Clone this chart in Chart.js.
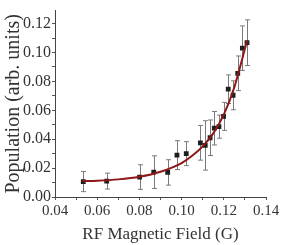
<!DOCTYPE html>
<html>
<head>
<meta charset="utf-8">
<script src="https://cdn.jsdelivr.net/npm/chart.js@4"></script>
<style>
  html, body { margin: 0; padding: 0; background: #fff; }
  #wrap { width: 283px; height: 245px; }
</style>
</head>
<body>
<div id="wrap"><canvas id="c" width="283" height="245"></canvas></div>
<script>
// measured points (RF field in G, population arb. units, +/- error)
var fieldX = [0.0534, 0.0645, 0.0801, 0.0868, 0.0934, 0.0978, 0.1022, 0.1089, 0.1112,
              0.1135, 0.1155, 0.1177, 0.1199, 0.1221, 0.1244, 0.1266, 0.1288, 0.1310];
var population = [0.0107, 0.0110, 0.0138, 0.0172, 0.0170, 0.0290, 0.0300, 0.0375, 0.0357,
                  0.0410, 0.0476, 0.0487, 0.0558, 0.0746, 0.0704, 0.0856, 0.1030, 0.1068];
var popError = [0.0070, 0.0055, 0.0085, 0.0113, 0.0088, 0.0100, 0.0083, 0.0120, 0.0171,
                0.0123, 0.0116, 0.0080, 0.0097, 0.0099, 0.0100, 0.0120, 0.0154, 0.0158];

// fitted curve
var fitX = [0.053, 0.060, 0.070, 0.080, 0.090, 0.100, 0.105, 0.110, 0.115, 0.120, 0.125, 0.131];
var fitY = [0.0110, 0.0113, 0.0122, 0.0140, 0.0175, 0.0235, 0.0285, 0.0350, 0.0440, 0.0570, 0.0760, 0.1080];

var xTicks = [0.04, 0.06, 0.08, 0.10, 0.12, 0.14];
var yTicks = [0.00, 0.02, 0.04, 0.06, 0.08, 0.10, 0.12];

function withMinors(major) {
  var out = [];
  for (var i = 0; i < major.length; i++) {
    out.push(major[i]);
    if (i < major.length - 1) out.push((major[i] + major[i + 1]) / 2);
  }
  return out;
}
function isMajor(list, v) {
  return list.some(function (m) { return Math.abs(m - v) < 1e-9; });
}

var errorBars = {
  id: 'errorBars',
  beforeDatasetsDraw: function (chart) {
    var ctx = chart.ctx;
    var xs = chart.scales.x, ys = chart.scales.y;
    ctx.save();
    ctx.strokeStyle = '#7a7a7a';
    ctx.lineWidth = 1;
    for (var i = 0; i < fieldX.length; i++) {
      var px = Math.round(xs.getPixelForValue(fieldX[i])) + 0.5;
      var top = ys.getPixelForValue(population[i] + popError[i]);
      var bot = ys.getPixelForValue(population[i] - popError[i]);
      ctx.beginPath();
      ctx.moveTo(px, top); ctx.lineTo(px, bot);
      ctx.moveTo(px - 2.5, top); ctx.lineTo(px + 2.5, top);
      ctx.moveTo(px - 2.5, bot); ctx.lineTo(px + 2.5, bot);
      ctx.stroke();
    }
    ctx.restore();
  }
};

var serif = 'Liberation Serif';

new Chart(document.getElementById('c').getContext('2d'), {
  type: 'scatter',
  data: {
    datasets: [{
      label: 'fit',
      type: 'line',
      data: fitX.map(function (x, i) { return { x: x, y: fitY[i] }; }),
      borderColor: '#8e1717',
      borderWidth: 2,
      pointRadius: 0,
      cubicInterpolationMode: 'monotone',
      fill: false,
      order: 0
    }, {
      label: 'data',
      data: fieldX.map(function (x, i) { return { x: x, y: population[i] }; }),
      pointStyle: 'rect',
      pointRadius: 3.4,
      backgroundColor: '#1e1e1e',
      borderColor: '#1e1e1e',
      borderWidth: 0,
      order: 1
    }]
  },
  options: {
    responsive: false,
    animation: false,
    layout: { padding: { left: 2, right: 17, top: 5, bottom: 0 } },
    plugins: { legend: { display: false }, tooltip: { enabled: false } },
    scales: {
      x: {
        type: 'linear',
        min: 0.04, max: 0.14,
        afterBuildTicks: function (s) { s.ticks = withMinors(xTicks).map(function (v) { return { value: v }; }); },
        afterFit: function (s) { s.height = 48; },
        border: { color: '#444', width: 1 },
        grid: { drawOnChartArea: false, drawTicks: true, tickLength: 3, color: '#555' },
        ticks: {
          autoSkip: false, maxRotation: 0, padding: 2, color: '#333',
          font: { family: serif, size: 15 },
          callback: function (v) { return isMajor(xTicks, v) ? v.toFixed(2) : ''; }
        },
        title: {
          display: true, text: 'RF Magnetic Field (G)', color: '#333',
          font: { family: serif, size: 17 }, padding: { top: 1, bottom: 0 }
        }
      },
      y: {
        type: 'linear',
        min: 0, max: 0.129,
        afterBuildTicks: function (s) { s.ticks = withMinors(yTicks).map(function (v) { return { value: v }; }); },
        afterFit: function (s) { s.width = 53; },
        border: { color: '#444', width: 1 },
        grid: { drawOnChartArea: false, drawTicks: true, tickLength: 3, color: '#555' },
        ticks: {
          autoSkip: false, padding: 1, color: '#333',
          font: { family: serif, size: 16 },
          callback: function (v) { return isMajor(yTicks, v) ? v.toFixed(2) : ''; }
        },
        title: {
          display: true, text: 'Population (arb. units)', color: '#333',
          font: { family: serif, size: 20 }, padding: { top: 0, bottom: 0 }
        }
      }
    }
  },
  plugins: [errorBars]
});
</script>
</body>
</html>
